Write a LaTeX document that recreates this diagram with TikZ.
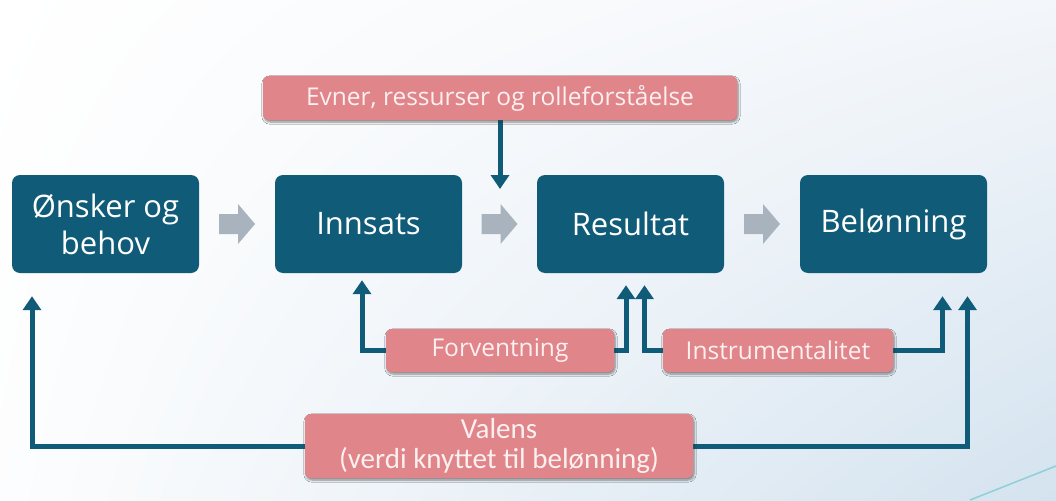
\documentclass[tikz,border=0pt]{standalone}
\usepackage{fontspec}
\setmainfont{Open Sans}
\newfontfamily\narrowfont{Carlito}
\usetikzlibrary{arrows.meta,shadows.blur,calc,shadings}
\definecolor{teal}{HTML}{105C78}
\definecolor{pinkbox}{HTML}{E0858A}
\definecolor{pinktext}{HTML}{FDF0F0}
\definecolor{greyarrow}{HTML}{A9B3BD}
\definecolor{bgblue}{HTML}{D4E3EF}
\definecolor{bgmid}{HTML}{F3F6FA}
\definecolor{decoline}{HTML}{8FD0D8}
\tikzset{
  mainbox/.style={fill=teal, rounded corners=8pt, minimum width=187pt, minimum height=98pt,
    text=white, align=center, font=\fontsize{31}{37}\selectfont, inner sep=0pt},
  pinkbox/.style={fill=pinkbox, rounded corners=6pt, text=pinktext, align=center,
    font=\fontsize{24.5}{28}\selectfont, inner sep=0pt,
    blur shadow={shadow blur steps=6, shadow xshift=1pt, shadow yshift=-2pt, shadow opacity=25}},
  valfont/.style={font=\narrowfont\fontsize{29}{30}\selectfont},
  conn/.style={draw=teal, line width=5pt, -{Triangle[width=18pt,length=14pt]}},
  garrow/.style={fill=greyarrow}
}
\begin{document}
\begin{tikzpicture}[x=1pt,y=-1pt]
  % background
  \shade[upper left=white, upper right=bgmid, lower left=white!80!bgmid, lower right=bgblue]
    (0,0) rectangle (1056,500);
  \useasboundingbox (0,0) rectangle (1056,500);
  \draw[decoline, line width=1.5pt] (970,500) -- (1056,466);

  % main boxes
  \node[mainbox] (ob) at (105.5,224) {Ønsker og\\behov};
  \node[mainbox] (in) at (368.5,224) {Innsats};
  \node[mainbox] (re) at (630.5,224) {Resultat};
  \node[mainbox] (be) at (893.5,224) {Belønning};

  % grey block arrows
  \foreach \a/\b in {ob/in, in/re, re/be}{
    \coordinate (m) at ($(\a.east)!0.5!(\b.west)$);
    \fill[garrow] ($(m)+(-18,-10)$) -- ($(m)+(1,-10)$) -- ($(m)+(1,-20)$) -- ($(m)+(18,0)$)
      -- ($(m)+(1,20)$) -- ($(m)+(1,10)$) -- ($(m)+(-18,10)$) -- cycle;
  }

  % pink label boxes
  \node[pinkbox, minimum width=474pt, minimum height=44pt] (ev) at (500,98) {Evner, ressurser og rolleforståelse};
  \node[pinkbox, minimum width=228pt, minimum height=43pt] (fv) at (500,350.5) {Forventning};
  \node[pinkbox, minimum width=230pt, minimum height=43pt] (ins) at (778,350.5) {Instrumentalitet};
  \node[pinkbox, minimum width=388pt, minimum height=64pt, valfont] (va) at (499,446) {Valens\\(verdi knyttet til belønning)};

  % connectors
  \coordinate (toptip) at (500,189);
  \draw[conn] (ev.south) -- (toptip);
  \draw[conn, shorten >=7pt] (fv.west) -| ([xshift=-6.5pt]in.south);
  \draw[conn, shorten >=12pt] (fv.east) -| ([xshift=-4.5pt]re.south);
  \draw[conn, shorten >=12pt] (ins.west) -| ([xshift=14pt]re.south);
  \draw[conn, shorten >=23pt] (ins.east) -| ([xshift=49pt]be.south);
  \draw[conn, shorten >=23pt] (va.west) -| ([xshift=-73.5pt]ob.south);
  \draw[conn, shorten >=23pt] (va.east) -| ([xshift=74pt]be.south);

  % redraw pink boxes above connectors
  \node[pinkbox, minimum width=228pt, minimum height=43pt] at (fv) {Forventning};
  \node[pinkbox, minimum width=230pt, minimum height=43pt] at (ins) {Instrumentalitet};
  \node[pinkbox, minimum width=388pt, minimum height=64pt, valfont] at (va) {Valens\\(verdi knyttet til belønning)};
  \node[pinkbox, minimum width=474pt, minimum height=44pt] at (ev) {Evner, ressurser og rolleforståelse};
\end{tikzpicture}
\end{document}
